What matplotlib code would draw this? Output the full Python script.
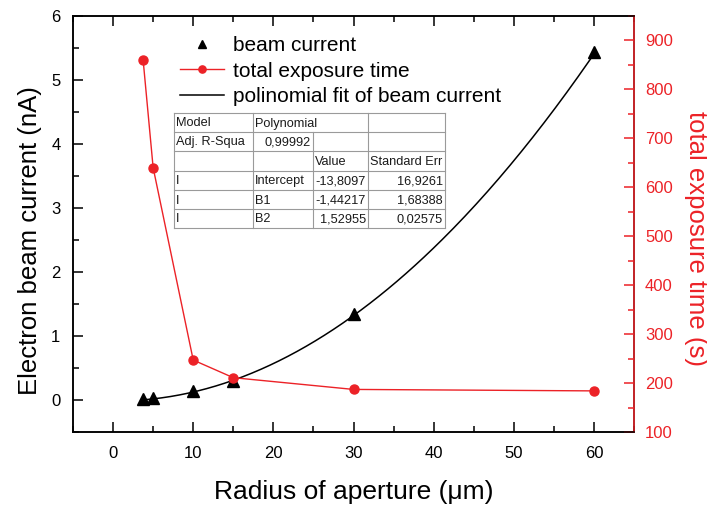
import numpy as np
import matplotlib.pyplot as plt
from matplotlib.lines import Line2D
from matplotlib.ticker import MultipleLocator

plt.rcParams['font.family'] = ['Liberation Sans', 'DejaVu Sans']

# aperture radius (um)
radius = [3.75, 5, 10, 15, 30, 60]
# electron beam current (nA)
beam_current = [0.02, 0.03, 0.14, 0.30, 1.35, 5.43]
# total exposure time (s)
exposure_time = [860, 640, 247, 211, 187, 184]

# polynomial fit of beam current (pA): B0 + B1*x + B2*x^2
fit_names = ["Intercept", "B1", "B2"]
fit_values = [-13.8097, -1.44217, 1.52955]
fit_errors = ["16,9261", "1,68388", "0,02575"]
adj_r2 = "0,99992"

RED = "#ec2227"
W, H = 707, 507

fig = plt.figure(figsize=(W / 100, H / 100), dpi=100)
ax = fig.add_axes([73 / W, 1 - 432 / H, (634 - 73) / W, (432 - 16) / H])
ax2 = ax.twinx()

x_fit = np.linspace(radius[0], radius[-1], 200)
y_fit = (fit_values[0] + fit_values[1] * x_fit + fit_values[2] * x_fit ** 2) / 1000.0

h_fit, = ax.plot(x_fit, y_fit, color="black", lw=1.1)
h_bc, = ax.plot(radius, beam_current, ls="none", marker="^", ms=8, color="black")
h_et, = ax2.plot(radius, exposure_time, color=RED, lw=1.0, marker="o", ms=6.5)

ax.set_xlim(-5, 65)
ax.set_ylim(-0.5, 6)
ax2.set_ylim(100, 950)

ax.xaxis.set_major_locator(MultipleLocator(10))
ax.xaxis.set_minor_locator(MultipleLocator(5))
ax.yaxis.set_major_locator(MultipleLocator(1))
ax.yaxis.set_minor_locator(MultipleLocator(0.5))
ax2.yaxis.set_major_locator(MultipleLocator(100))
ax2.yaxis.set_minor_locator(MultipleLocator(50))

ax.tick_params(axis="x", which="both", direction="in", top=True, labelsize=12, pad=10)
ax.tick_params(axis="y", which="both", direction="in", right=False, labelsize=12, pad=9)
ax.tick_params(which="major", length=7, width=1.1)
ax.tick_params(which="minor", length=4, width=1.1)
ax2.tick_params(axis="y", which="both", direction="in", colors=RED, labelsize=12, pad=8)
ax2.tick_params(which="major", length=7, width=1.1)
ax2.tick_params(which="minor", length=4, width=1.1)
ax2.spines["right"].set_color(RED)
for a in (ax, ax2):
    for s in a.spines.values():
        s.set_linewidth(1.1)

ax.set_xlabel("Radius of aperture (\u03bcm)", fontsize=19, labelpad=14)
ax.set_ylabel("Electron beam current (nA)", fontsize=18.5)
ax2.set_ylabel("total exposure time (s)", fontsize=18.5, color=RED, rotation=270, va="center")
ax.yaxis.set_label_coords(-31 / 561, 0.46)
ax2.yaxis.set_label_coords(1 + 62 / 561, 0.465)

ax2.legend([h_bc, h_et, h_fit],
           ["beam current", "total exposure time", "polinomial fit of beam current"],
           loc="upper left", bbox_to_anchor=((172 - 73) / (634 - 73), 1 - (28 - 16) / (432 - 16)),
           frameon=False, fontsize=15, handlelength=2.1, handletextpad=0.45,
           labelspacing=0.3, borderaxespad=0, markerscale=0.8)

# fit result table drawn in pixel coordinates
def fx(px):
    return px / W

def fy(py):
    return 1 - py / H

cols = [174, 253, 313, 368, 445]
rows = [113, 132, 151, 171, 190, 209, 228]
grid = "#9a9a9a"

fig.add_artist(plt.Rectangle((fx(cols[0]), fy(rows[-1])), fx(cols[-1]) - fx(cols[0]),
                             fy(rows[0]) - fy(rows[-1]), transform=fig.transFigure,
                             facecolor="white", edgecolor="none", zorder=5))
for r in rows:
    fig.add_artist(Line2D([fx(cols[0]), fx(cols[-1])], [fy(r), fy(r)],
                          transform=fig.transFigure, color=grid, lw=0.8, zorder=6))
for i, c in enumerate(cols):
    top = rows[1] if i == 2 else rows[0]
    fig.add_artist(Line2D([fx(c), fx(c)], [fy(top), fy(rows[-1])],
                          transform=fig.transFigure, color=grid, lw=0.8, zorder=6))

cells = [
    ["Model", "Polynomial", "", ""],
    ["Adj. R-Squa", adj_r2, "", ""],
    ["", "", "Value", "Standard Err"],
]
for n, v, e in zip(fit_names, fit_values, fit_errors):
    cells.append(["I", n, f"{v:.6g}".replace(".", ","), e])

for ri, row in enumerate(cells):
    yc = (rows[ri] + rows[ri + 1]) / 2 + 1
    for ci, txt in enumerate(row):
        if not txt:
            continue
        right = (ri >= 3 and ci >= 2) or (ri == 1 and ci == 1)
        if right:
            xpos, ha = cols[ci + 1] - 2, "right"
        else:
            xpos, ha = cols[ci] + 2, "left"
        fig.text(fx(xpos), fy(yc), txt, fontsize=9.2, ha=ha, va="center",
                 color="#1a1a1a", zorder=7)

fig.savefig("out.png", dpi=100)
